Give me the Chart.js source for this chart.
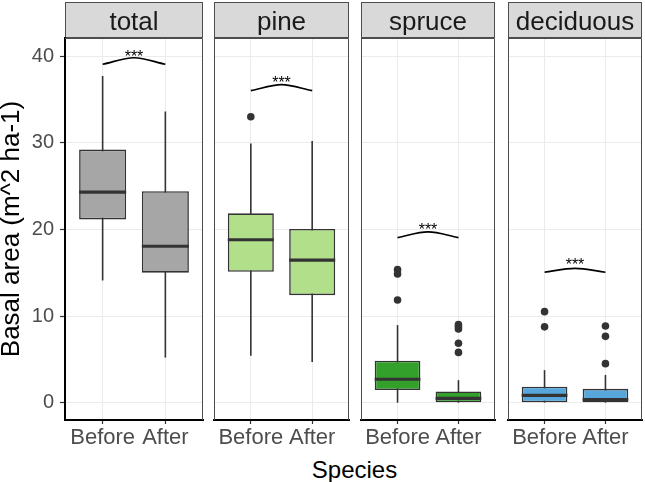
<!DOCTYPE html>
<html>
<head>
<meta charset="utf-8">
<script src="https://cdn.jsdelivr.net/npm/chart.js@4.4.1/dist/chart.umd.min.js"></script>
<style>
  html, body { margin: 0; padding: 0; background: #fff; overflow: hidden; }
  #wrap { position: relative; width: 645px; height: 482px; }
  #wrap canvas { position: absolute; top: 0; }
  #xtitle {
    position: absolute; left: 65px; width: 579px; top: 456px;
    text-align: center; line-height: 24px;
    font: 24px "Liberation Sans", Arial, sans-serif; color: #000;
  }
</style>
</head>
<body>
<div id="wrap"><div id="xtitle">Species</div></div>
<script>
// facets and categories
const panelNames = ['total', 'pine', 'spruce', 'deciduous'];
const periodLabels = ['Before', 'After'];
const yTicks = [0, 10, 20, 30, 40];

// box statistics, one [Before, After] pair per panel
const whiskerLow  = [[14.1, 5.2], [5.4, 4.7], [0.0, 0.0], [0.0, 0.0]];
const lowerQ      = [[21.15, 15.0], [15.1, 12.4], [1.45, 0.05], [0.05, 0.05]];
const medianVal   = [[24.3, 18.05], [18.8, 16.45], [2.7, 0.5], [0.85, 0.35]];
const upperQ      = [[29.2, 24.4], [21.85, 20.05], [4.85, 1.3], [1.85, 1.6]];
const whiskerHigh = [[37.7, 33.6], [29.9, 30.2], [8.95, 2.6], [3.75, 3.2]];
const outliers = [
  [[], []],
  [[33.0], []],
  [[15.35, 14.85, 11.85], [9.0, 8.75, 8.5, 6.85, 5.8]],
  [[10.5, 8.75], [8.85, 7.65, 4.5]]
];

// significance brackets
const bracketEnd = [39.05, 36.0, 19.05, 15.05];
const bracketTop = [39.8, 36.7, 19.7, 15.5];
const starsLevel = [40.4, 37.3, 20.4, 16.4];
const starsText  = ['***', '***', '***', '***'];

// layout / style
const panelBox = [[65, 203], [212, 351], [359, 497], [506, 644]];
const fills = ['#a6a6a6', '#b2df8a', '#33a02c', '#57a7dc'];
const BOX_W = 0.75;
const FONT = '"Liberation Sans", Arial, sans-serif';

Chart.defaults.font.family = FONT;

// strip header, panel border and the stars
const facetDecor = {
  id: 'facetDecor',
  beforeDraw(chart, args, opts) {
    const { ctx, chartArea: a } = chart;
    ctx.save();
    ctx.fillStyle = '#d9d9d9';
    ctx.fillRect(a.left, 2, a.right - a.left, 36);
    ctx.strokeStyle = '#4d4d4d';
    ctx.lineWidth = 1;
    ctx.strokeRect(a.left + 0.5, 2.5, a.right - a.left - 1, 35);
    ctx.fillStyle = '#1a1a1a';
    ctx.font = '26px ' + FONT;
    ctx.textAlign = 'center';
    ctx.textBaseline = 'alphabetic';
    ctx.fillText(opts.label, (a.left + a.right) / 2, 29.5);
    ctx.restore();
  },
  beforeDatasetsDraw(chart, args, opts) {
    const { ctx, chartArea: a } = chart;
    ctx.save();
    ctx.strokeStyle = '#4d4d4d';
    ctx.lineWidth = 1;
    ctx.beginPath();
    ctx.moveTo(a.left, a.top + 0.5);
    ctx.lineTo(a.right - 0.5, a.top + 0.5);
    ctx.lineTo(a.right - 0.5, a.bottom);
    if (!opts.first) {
      ctx.moveTo(a.left + 0.5, a.top);
      ctx.lineTo(a.left + 0.5, a.bottom);
    }
    ctx.stroke();
    ctx.restore();
  },
  afterDatasetsDraw(chart, args, opts) {
    const { ctx, scales } = chart;
    const p = opts.panel;
    ctx.save();
    ctx.fillStyle = '#000';
    ctx.font = '16px ' + FONT;
    ctx.textAlign = 'center';
    ctx.textBaseline = 'alphabetic';
    ctx.fillText(starsText[p], scales.x.getPixelForValue(1.5),
                 scales.y.getPixelForValue(starsLevel[p]) + 9);
    ctx.restore();
  }
};

function buildDatasets(p) {
  const ds = [];
  ds.push({
    type: 'bar',
    data: periodLabels.map((_, g) => ({ x: g + 1, y: [lowerQ[p][g], upperQ[p][g]] })),
    backgroundColor: fills[p],
    borderColor: '#333',
    borderWidth: 1.6,
    borderSkipped: false,
    barPercentage: BOX_W,
    categoryPercentage: 1,
    order: 3
  });
  periodLabels.forEach((_, g) => {
    // whisker (behind the box)
    ds.push({
      type: 'line',
      data: [{ x: g + 1, y: whiskerLow[p][g] }, { x: g + 1, y: whiskerHigh[p][g] }],
      borderColor: '#333', borderWidth: 1.6, pointRadius: 0, fill: false, order: 4
    });
    // median
    ds.push({
      type: 'line',
      data: [{ x: g + 1 - BOX_W / 2, y: medianVal[p][g] }, { x: g + 1 + BOX_W / 2, y: medianVal[p][g] }],
      borderColor: '#333', borderWidth: 3.2, pointRadius: 0, fill: false, order: 2
    });
    // outliers
    ds.push({
      type: 'scatter',
      data: outliers[p][g].map(v => ({ x: g + 1, y: v })),
      pointRadius: 3.8, backgroundColor: '#333', borderWidth: 0, order: 1
    });
  });
  // bracket
  ds.push({
    type: 'line',
    data: [{ x: 1, y: bracketEnd[p] }, { x: 1.5, y: bracketTop[p] }, { x: 2, y: bracketEnd[p] }],
    borderColor: '#000', borderWidth: 1.7, cubicInterpolationMode: 'monotone',
    pointRadius: 0, fill: false, order: 1
  });
  return ds;
}

const wrap = document.getElementById('wrap');

panelNames.forEach((name, p) => {
  const first = p === 0;
  const [L, R] = panelBox[p];
  const canvas = document.createElement('canvas');
  const left = first ? 0 : L - 2;
  const width = R + 2 - left;
  canvas.width = width;
  canvas.height = 482;
  canvas.style.left = left + 'px';
  canvas.style.width = width + 'px';
  canvas.style.height = '482px';
  wrap.appendChild(canvas);

  new Chart(canvas, {
    type: 'bar',
    data: { datasets: buildDatasets(p) },
    options: {
      responsive: false,
      animation: false,
      devicePixelRatio: 1,
      layout: { padding: { top: 38, left: first ? 0 : 2, right: 2, bottom: 0 } },
      plugins: {
        legend: { display: false },
        tooltip: { enabled: false },
        facetDecor: { label: name, panel: p, first: first }
      },
      scales: {
        x: {
          type: 'linear', min: 0.4, max: 2.6, offset: false,
          afterBuildTicks: s => { s.ticks = periodLabels.map((_, g) => ({ value: g + 1 })); },
          afterFit: s => { s.height = 62; },
          ticks: {
            autoSkip: false, maxRotation: 0, padding: 1, color: '#4d4d4d',
            font: { size: 22 },
            callback: v => periodLabels[v - 1]
          },
          grid: { color: '#ebebeb', lineWidth: 1, tickLength: 4, tickColor: '#333', tickWidth: 1.2, offset: false },
          border: { display: true, color: '#000', width: 2 }
        },
        y: {
          min: -2, max: 42.08,
          afterBuildTicks: s => { s.ticks = yTicks.map(v => ({ value: v })); },
          afterFit: s => { s.width = first ? 65 : 0; },
          ticks: { display: first, padding: 6, color: '#4d4d4d', font: { size: 20 } },
          grid: { color: '#ebebeb', lineWidth: 1, drawTicks: first, tickLength: 5, tickColor: '#333', tickWidth: 1.2 },
          border: { display: first, color: '#000', width: 2 },
          title: {
            display: first, text: 'Basal area (m^2 ha-1)', color: '#000',
            font: { size: 26, lineHeight: 0.92 }, padding: 0
          }
        }
      }
    },
    plugins: [facetDecor]
  });
});
</script>
</body>
</html>
